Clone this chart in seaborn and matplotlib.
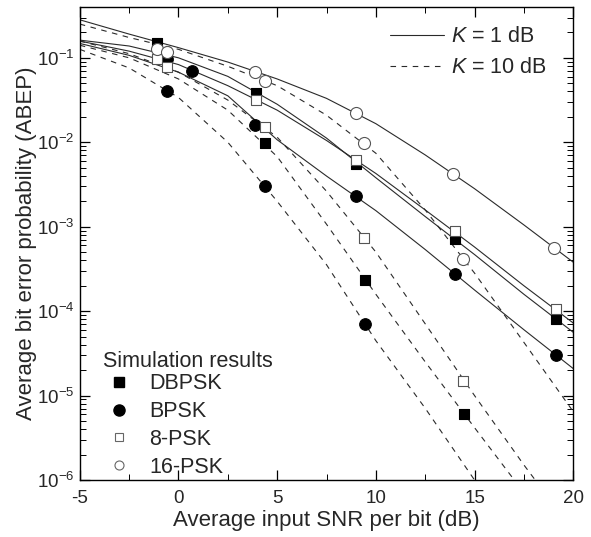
import matplotlib
matplotlib.use("Agg")
import matplotlib.pyplot as plt
from matplotlib.lines import Line2D
from matplotlib.ticker import LogLocator, MultipleLocator, NullFormatter
import seaborn as sns
import pandas as pd
import numpy as np

# ---------------- data ----------------
snr_grid = [-5, -2.5, 0, 2.5, 5, 7.5, 10, 12.5, 15, 17.5, 20]

# analytical curves, K = 1 dB (solid)
dbpsk_k1 = [0.162, 0.138, 0.100, 0.0603, 0.0282, 0.0112, 0.0038, 0.00132, 4.68e-4, 1.585e-4, 5.62e-5]
bpsk_k1 = [0.148, 0.107, 0.0676, 0.0355, 0.0107, 0.00398, 0.00155, 5.37e-4, 1.78e-4, 6.03e-5, 2.09e-5]
psk8_k1 = [0.158, 0.120, 0.0832, 0.0468, 0.0240, 0.0105, 0.00427, 0.00158, 5.75e-4, 2.0e-4, 7.24e-5]
psk16_k1 = [0.282, 0.191, 0.132, 0.0891, 0.0562, 0.0331, 0.0166, 0.00708, 0.00282, 0.00105, 3.8e-4]

# analytical curves, K = 10 dB (dashed)
dbpsk_k10 = [0.141, 0.100, 0.0562, 0.0240, 0.00676, 0.00107, 1.585e-4, 2.51e-5, 4.17e-6, 7.08e-7, 1.26e-7]
bpsk_k10 = [0.126, 0.0759, 0.0339, 0.0100, 0.0020, 3.55e-4, 4.47e-5, 7.08e-6, 1.0e-6, 1.26e-7, 1.58e-8]
psk8_k10 = [0.158, 0.112, 0.0676, 0.0316, 0.01148, 0.00263, 5.01e-4, 7.08e-5, 1.0e-5, 1.51e-6, 2.51e-7]
psk16_k10 = [0.251, 0.174, 0.126, 0.0794, 0.0468, 0.0209, 0.00741, 0.00158, 2.82e-4, 4.27e-5, 6.46e-6]

# simulation results
sim_dbpsk_k1_x = [-1.1, 3.95, 9.0, 14.0, 19.1]
sim_dbpsk_k1_y = [0.151, 0.0383, 0.0056, 7.2e-4, 8.0e-5]
sim_dbpsk_k10_x = [4.4, 9.45, 14.45]
sim_dbpsk_k10_y = [0.0097, 2.34e-4, 6.1e-6]
sim_bpsk_k1_x = [-0.6, 0.7, 3.9, 9.0, 14.0, 19.1]
sim_bpsk_k1_y = [0.097, 0.070, 0.0159, 0.00234, 2.75e-4, 3.0e-5]
sim_bpsk_k10_x = [-0.6, 4.4, 9.45]
sim_bpsk_k10_y = [0.040, 0.0030, 7.0e-5]
sim_psk8_k1_x = [-1.1, 3.95, 9.0, 14.0, 19.1]
sim_psk8_k1_y = [0.097, 0.0316, 0.0061, 8.9e-4, 1.06e-4]
sim_psk8_k10_x = [-0.6, 4.4, 9.4, 14.4]
sim_psk8_k10_y = [0.078, 0.0151, 7.4e-4, 1.51e-5]
sim_psk16_k1_x = [-1.1, 3.9, 9.0, 13.9, 19.0]
sim_psk16_k1_y = [0.128, 0.068, 0.0221, 4.2e-3, 5.6e-4]
sim_psk16_k10_x = [-0.6, 4.4, 9.4, 14.4]
sim_psk16_k10_y = [0.118, 0.053, 9.7e-3, 4.2e-4]

scheme_names = ["DBPSK", "BPSK", "8-PSK", "16-PSK"]
k_labels = ["K = 1 dB", "K = 10 dB"]
x_ticks = [-5, 0, 5, 10, 15, 20]

# ---------------- build tables ----------------
curves = {
    ("DBPSK", k_labels[0]): dbpsk_k1, ("BPSK", k_labels[0]): bpsk_k1,
    ("8-PSK", k_labels[0]): psk8_k1, ("16-PSK", k_labels[0]): psk16_k1,
    ("DBPSK", k_labels[1]): dbpsk_k10, ("BPSK", k_labels[1]): bpsk_k10,
    ("8-PSK", k_labels[1]): psk8_k10, ("16-PSK", k_labels[1]): psk16_k10,
}
rows = []
for (sch, k), vals in curves.items():
    for x, y in zip(snr_grid, vals):
        rows.append({"snr": x, "pb": y, "scheme": sch, "K": k})
df = pd.DataFrame(rows)

sims = [
    ("DBPSK", sim_dbpsk_k1_x, sim_dbpsk_k1_y), ("DBPSK", sim_dbpsk_k10_x, sim_dbpsk_k10_y),
    ("BPSK", sim_bpsk_k1_x, sim_bpsk_k1_y), ("BPSK", sim_bpsk_k10_x, sim_bpsk_k10_y),
    ("8-PSK", sim_psk8_k1_x, sim_psk8_k1_y), ("8-PSK", sim_psk8_k10_x, sim_psk8_k10_y),
    ("16-PSK", sim_psk16_k1_x, sim_psk16_k1_y), ("16-PSK", sim_psk16_k10_x, sim_psk16_k10_y),
]
srows = []
for sch, xs, ys in sims:
    for x, y in zip(xs, ys):
        srows.append({"snr": x, "pb": y, "scheme": sch})
sdf = pd.DataFrame(srows)

# ---------------- plot ----------------
sns.set_theme(style="ticks")
plt.rcParams["font.family"] = ["Liberation Sans", "DejaVu Sans"]
plt.rcParams["mathtext.fontset"] = "custom"
plt.rcParams["mathtext.rm"] = "Liberation Sans"
plt.rcParams["mathtext.it"] = "Liberation Sans:italic"
plt.rcParams["axes.unicode_minus"] = False

fig = plt.figure(figsize=(5.91, 5.37), dpi=100)
ax = fig.add_axes([0.135, 0.106, 0.835, 0.881])

line_col = "#2a2a2a"
sns.lineplot(data=df, x="snr", y="pb", units="scheme", style="K", estimator=None,
             color=line_col, linewidth=0.8, dashes={k_labels[0]: "", k_labels[1]: (5, 5)},
             legend=False, ax=ax)

marker_style = {
    "DBPSK": dict(marker="s", facecolor="black", edgecolor="black", s=60),
    "BPSK": dict(marker="o", facecolor="black", edgecolor="black", s=70),
    "8-PSK": dict(marker="s", facecolor="white", edgecolor="#555555", s=60),
    "16-PSK": dict(marker="o", facecolor="white", edgecolor="#555555", s=75),
}
for sch in scheme_names:
    sub = sdf[sdf["scheme"] == sch]
    st = marker_style[sch]
    sns.scatterplot(data=sub, x="snr", y="pb", marker=st["marker"], color=st["facecolor"],
                    edgecolor=st["edgecolor"], linewidth=0.8, s=st["s"], zorder=5,
                    legend=False, ax=ax)

ax.set_yscale("log")
ax.set_xlim(-5, 20)
ax.set_ylim(1e-6, 0.4)
ax.set_xticks(x_ticks)
ax.xaxis.set_minor_locator(MultipleLocator(2.5))
ax.yaxis.set_major_locator(LogLocator(base=10, numticks=20))
ax.yaxis.set_minor_locator(LogLocator(base=10, subs=np.arange(2, 10), numticks=20))
ax.yaxis.set_minor_formatter(NullFormatter())
ax.tick_params(which="both", direction="in", top=True, right=True, labelsize=13.5, color="black")
ax.tick_params(axis="x", which="major", pad=7)
ax.tick_params(axis="y", which="major", pad=4)
ax.tick_params(which="major", length=7, width=0.9)
ax.tick_params(which="minor", length=4, width=0.7)
for s in ax.spines.values():
    s.set_color("black")
    s.set_linewidth(1.0)

ax.set_xlabel("Average input SNR per bit (dB)", fontsize=16, labelpad=2)
ax.set_ylabel("Average bit error probability (ABEP)", fontsize=16, labelpad=0)

# legend for K values
k_handles = [Line2D([], [], color=line_col, lw=0.8, ls="-"),
             Line2D([], [], color=line_col, lw=0.8, ls=(0, (5, 5)))]
leg1 = ax.legend(k_handles, [r"$K$ = 1 dB", r"$K$ = 10 dB"], loc="upper right",
                 bbox_to_anchor=(0.985, 1.0), frameon=False, fontsize=15.5,
                 handlelength=2.5, handletextpad=0.3, labelspacing=0.45, borderaxespad=0.5)
ax.add_artist(leg1)

# legend for simulation results
sim_handles = [
    Line2D([], [], ls="none", marker="s", mfc="black", mec="black", ms=6.5),
    Line2D([], [], ls="none", marker="o", mfc="black", mec="black", ms=8),
    Line2D([], [], ls="none", marker="s", mfc="white", mec="#666666", ms=5.5, mew=0.8),
    Line2D([], [], ls="none", marker="o", mfc="white", mec="#666666", ms=6.5, mew=0.8),
]
leg2 = ax.legend(sim_handles, scheme_names, title="Simulation results", loc="lower left",
                 bbox_to_anchor=(0.025, -0.018), frameon=False, fontsize=15.5, title_fontsize=15.5,
                 handlelength=1.5, handletextpad=0.65, labelspacing=0.32, borderaxespad=0.1)
leg2._legend_box.align = "left"
leg2._legend_box.sep = 1

fig.savefig("out.png", dpi=100)
